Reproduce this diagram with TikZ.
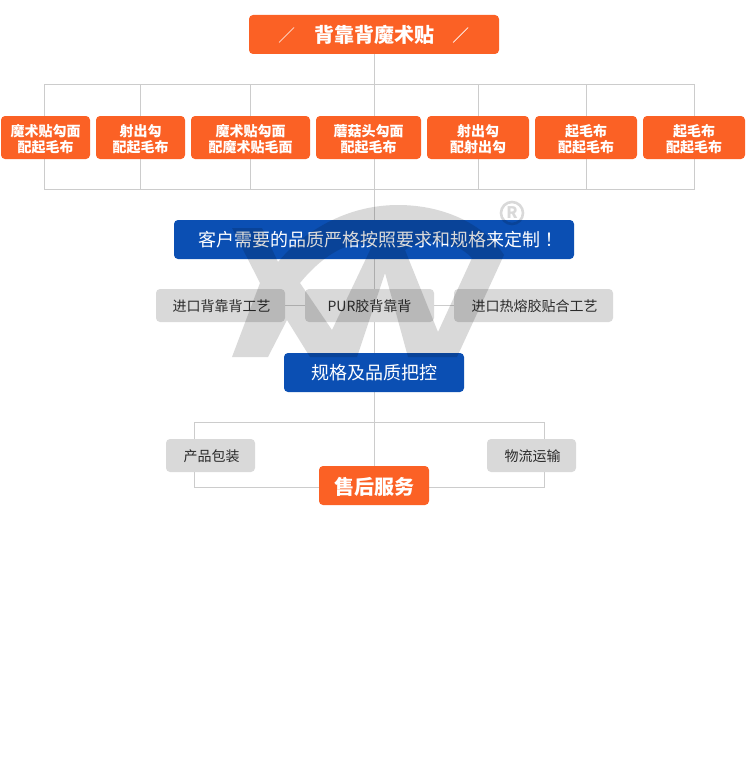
\documentclass[tikz,border=0pt]{standalone}
\usepackage{fontspec}
\usetikzlibrary{backgrounds}
\setmainfont{Noto Sans CJK SC}
\newfontfamily\tcfont{Noto Sans CJK TC}
\newcommand{\dn}[1]{\raisebox{-1pt}[\height][\depth]{#1}}
\newcommand{\dnr}[1]{\raisebox{-1.6pt}[\height][\depth]{#1}}
\tikzset{
  x=1pt,y=-1pt,
  conn/.style={draw=linegray,line width=1pt},
  box/.style={rectangle,rounded corners=4pt,inner sep=0pt,align=center,anchor=center},
  obox/.style={box,fill=orbox,text=white,font=\fontsize{14}{16}\selectfont\bfseries},
  tbox/.style={box,fill=orbox,text=white,font=\fontsize{20}{24}\selectfont\bfseries},
  bbox/.style={box,fill=blbox,text=white,font=\fontsize{18}{22}\selectfont},
  gbox/.style={box,fill=grbox,text=txgray,font=\fontsize{14}{16}\selectfont},
  slashline/.style={draw=white,line width=0.7pt},
  wmark/.style={fill=black,fill opacity=0.15,draw=none},
}
\definecolor{linegray}{HTML}{CCCCCC}
\definecolor{orbox}{HTML}{FB6125}
\definecolor{blbox}{HTML}{0B4FB3}
\definecolor{grbox}{HTML}{D9D9D9}
\definecolor{txgray}{HTML}{2B2B2B}
\begin{document}
\begin{tikzpicture}
\useasboundingbox (0,0) rectangle (747,768);
% connector anchors
\coordinate (fa) at (44.5,84.5);
\coordinate (fb) at (694.5,84.5);
\coordinate (fc) at (694.5,189.5);
\coordinate (fd) at (44.5,189.5);
\coordinate (t2) at (140.5,84.5);  \coordinate (b2) at (140.5,189.5);
\coordinate (t3) at (250.5,84.5);  \coordinate (b3) at (250.5,189.5);
\coordinate (t5) at (478.5,84.5);  \coordinate (b5) at (478.5,189.5);
\coordinate (t6) at (586.5,84.5);  \coordinate (b6) at (586.5,189.5);
\coordinate (la) at (194.5,422.5);
\coordinate (lb) at (544.5,422.5);
\coordinate (lc) at (544.5,487.5);
\coordinate (ld) at (194.5,487.5);
\coordinate (s1a) at (279,42.5); \coordinate (s1b) at (294,27.5);
\coordinate (s2a) at (453,42.5); \coordinate (s2b) at (468,27.5);
% boxes
\node[tbox,minimum width=250pt,minimum height=39pt] (top) at (374,34.5) {背靠背魔术贴};
\draw[slashline] (s1a) -- (s1b);
\draw[slashline] (s2a) -- (s2b);
\node[obox,minimum width=89pt,minimum height=43pt] (r1) at (45.5,137.5) {\dnr{魔术贴勾面}\\\dnr{配起毛布}};
\node[obox,minimum width=89pt,minimum height=43pt] (r2) at (140.5,137.5) {\dnr{射出勾}\\\dnr{配起毛布}};
\node[obox,minimum width=119pt,minimum height=43pt] (r3) at (250.5,137.5) {\dnr{魔术贴勾面}\\\dnr{配魔术贴毛面}};
\node[obox,minimum width=105pt,minimum height=43pt] (r4) at (368.5,137.5) {\dnr{蘑菇头勾面}\\\dnr{配起毛布}};
\node[obox,minimum width=102pt,minimum height=43pt] (r5) at (478,137.5) {\dnr{射出勾}\\\dnr{配射出勾}};
\node[obox,minimum width=102pt,minimum height=43pt] (r6) at (586,137.5) {\dnr{起毛布}\\\dnr{配起毛布}};
\node[obox,minimum width=102pt,minimum height=43pt] (r7) at (694,137.5) {\dnr{起毛布}\\\dnr{配起毛布}};
\node[bbox,minimum width=400pt,minimum height=39pt] (need) at (374,239.5) {\hspace*{8pt}客户需要的品质严格按照要求和规格来定制{\tcfont ！}};
\node[gbox,minimum width=129pt,minimum height=33pt] (g1) at (220.5,305.5) {\hspace*{2pt}\dn{进口背靠背工艺}};
\node[gbox,minimum width=129pt,minimum height=33pt] (g2) at (369.5,305.5) {\dn{PUR胶背靠背}};
\node[gbox,minimum width=159pt,minimum height=33pt] (g3) at (533.5,305.5) {\hspace*{2pt}\dn{进口热熔胶贴合工艺}};
\node[bbox,minimum width=180pt,minimum height=39pt] (qc) at (374,372.5) {规格及品质把控};
\node[gbox,minimum width=89pt,minimum height=33pt] (pk) at (210.5,455.5) {\hspace*{2pt}\dn{产品包装}};
\node[gbox,minimum width=89pt,minimum height=33pt] (lg) at (531.5,455.5) {\hspace*{2pt}\dn{物流运输}};
\node[tbox,minimum width=110pt,minimum height=39pt] (after) at (374,485.5) {\dn{售后服务}};
% connectors behind the boxes
\begin{scope}[on background layer]
\draw[conn] ([xshift=0.5pt]top.south) -- ([xshift=0.5pt]after.north);
\draw[conn] (fa) -- (fb) -- (fc) -- (fd) -- cycle;
\draw[conn] (t2) -- (b2);
\draw[conn] (t3) -- (b3);
\draw[conn] (t5) -- (b5);
\draw[conn] (t6) -- (b6);
\draw[conn] (la) -- (lb) -- (lc) -- (ld) -- cycle;
\draw[conn] (g1.east) -- (g2.west);
\draw[conn] (g2.east) -- (g3.west);
\end{scope}
% watermark on top
\path[wmark,even odd rule]
  (232,228) -- (262,228) -- (278,262)
  .. controls (298,238) and (340,205) .. (398,205)
  .. controls (445,205) and (485,225) .. (504,255)
  -- (457,357) -- (408,357) -- (385,273) -- (357,357) -- (310,357)
  -- (287,320) -- (268,357) -- (232,357) -- (260,283) -- cycle
  (300,283) -- (332,330) -- (372,246)
  .. controls (350,238) and (322,256) .. cycle
  (438,332) -- (472,258)
  .. controls (455,240) and (425,236) .. (405,250) -- cycle;
\draw[draw=black,draw opacity=0.15,line width=2.6pt] (512,213) circle (11);
\node[text=black,text opacity=0.15,font=\fontsize{16}{16}\selectfont\bfseries,inner sep=0pt] (reg) at (512,213) {R};
\end{tikzpicture}
\end{document}
